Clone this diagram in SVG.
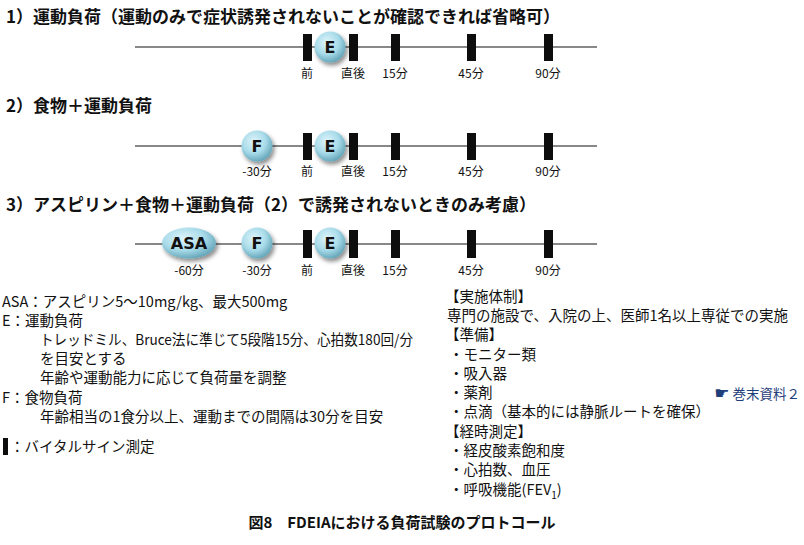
<svg xmlns="http://www.w3.org/2000/svg" width="804" height="545" viewBox="0 0 804 545">
<style>
text{font-family:"Noto Sans CJK JP","DejaVu Sans",sans-serif;fill:#111}
.h{font-size:17px;font-weight:bold}
.lbl{font-size:12px;text-anchor:middle}
.b{font-size:14.5px}
.node{font-size:16px;font-weight:bold;text-anchor:middle;font-family:"DejaVu Sans","Noto Sans CJK JP",sans-serif}
.bar{fill:#0d0d0d}
.tl{stroke:#888;stroke-width:2}
.ref{fill:#1f3f7a;font-size:13.5px;text-anchor:end}
.cap{font-size:15px;font-weight:bold;text-anchor:middle}
</style>
<defs>
<radialGradient id="g" cx="0.4" cy="0.35" r="0.7">
<stop offset="0" stop-color="#dff5fb"/>
<stop offset="0.55" stop-color="#a8dbe9"/>
<stop offset="1" stop-color="#5d9fb3"/>
</radialGradient>
<filter id="sh" x="-30%" y="-30%" width="170%" height="170%">
<feDropShadow dx="2" dy="3" stdDeviation="2" flood-color="#000" flood-opacity="0.45"/>
</filter>
</defs>

<text class="h" x="6" y="23">1）運動負荷（運動のみで症状誘発されないことが確認できれば省略可）</text>
<text class="h" x="6" y="112">2）食物＋運動負荷</text>
<text class="h" x="6" y="211">3）アスピリン＋食物＋運動負荷（2）で誘発されないときのみ考慮）</text>

<g id="connectors">
<line class="tl" x1="135" y1="47" x2="597" y2="47"/>
<line class="tl" x1="135" y1="146" x2="597" y2="146"/>
<line class="tl" x1="135" y1="244" x2="597" y2="244"/>
</g>

<g id="timeline1">
<rect class="bar" x="303" y="34" width="9" height="27"/>
<rect class="bar" x="349" y="34" width="9" height="27"/>
<rect class="bar" x="391" y="34" width="9" height="27"/>
<rect class="bar" x="467" y="34" width="9" height="27"/>
<rect class="bar" x="544" y="34" width="9" height="27"/>
<text class="lbl" x="307" y="78">前</text>
<text class="lbl" x="353" y="78">直後</text>
<text class="lbl" x="395" y="78">15分</text>
<text class="lbl" x="471" y="78">45分</text>
<text class="lbl" x="548" y="78">90分</text>
</g>
<g id="E1">
<circle cx="330" cy="47" r="15.5" fill="url(#g)" filter="url(#sh)"/>
<text class="node" x="330" y="53">E</text>
</g>

<g id="timeline2">
<rect class="bar" x="303" y="133" width="9" height="27"/>
<rect class="bar" x="349" y="133" width="9" height="27"/>
<rect class="bar" x="391" y="133" width="9" height="27"/>
<rect class="bar" x="467" y="133" width="9" height="27"/>
<rect class="bar" x="544" y="133" width="9" height="27"/>
<text class="lbl" x="257" y="176">-30分</text>
<text class="lbl" x="307" y="176">前</text>
<text class="lbl" x="353" y="176">直後</text>
<text class="lbl" x="395" y="176">15分</text>
<text class="lbl" x="471" y="176">45分</text>
<text class="lbl" x="548" y="176">90分</text>
</g>
<g id="F2">
<circle cx="257" cy="146" r="15.5" fill="url(#g)" filter="url(#sh)"/>
<text class="node" x="257" y="152">F</text>
</g>
<g id="E2">
<circle cx="330" cy="146" r="15.5" fill="url(#g)" filter="url(#sh)"/>
<text class="node" x="330" y="152">E</text>
</g>

<g id="timeline3">
<rect class="bar" x="303" y="230" width="9" height="28"/>
<rect class="bar" x="349" y="230" width="9" height="28"/>
<rect class="bar" x="391" y="230" width="9" height="28"/>
<rect class="bar" x="467" y="230" width="9" height="28"/>
<rect class="bar" x="544" y="230" width="9" height="28"/>
<text class="lbl" x="189" y="275">-60分</text>
<text class="lbl" x="257" y="275">-30分</text>
<text class="lbl" x="307" y="275">前</text>
<text class="lbl" x="353" y="275">直後</text>
<text class="lbl" x="395" y="275">15分</text>
<text class="lbl" x="471" y="275">45分</text>
<text class="lbl" x="548" y="275">90分</text>
</g>
<g id="ASA3">
<ellipse cx="189" cy="243" rx="27" ry="15.5" fill="url(#g)" filter="url(#sh)"/>
<text class="node" x="189" y="249">ASA</text>
</g>
<g id="F3">
<circle cx="257" cy="243" r="15.5" fill="url(#g)" filter="url(#sh)"/>
<text class="node" x="257" y="249">F</text>
</g>
<g id="E3">
<circle cx="330" cy="243" r="15.5" fill="url(#g)" filter="url(#sh)"/>
<text class="node" x="330" y="249">E</text>
</g>

<g id="legend">
<text class="b" x="2" y="307">ASA：アスピリン5～10mg/kg、最大500mg</text>
<text class="b" x="2" y="326">E：運動負荷</text>
<text class="b" x="40" y="345" textLength="373" lengthAdjust="spacingAndGlyphs">トレッドミル、Bruce法に準じて5段階15分、心拍数180回/分</text>
<text class="b" x="40" y="364">を目安とする</text>
<text class="b" x="40" y="383">年齢や運動能力に応じて負荷量を調整</text>
<text class="b" x="2" y="403">F：食物負荷</text>
<text class="b" x="40" y="422">年齢相当の1食分以上、運動までの間隔は30分を目安</text>
<rect class="bar" x="3" y="438" width="5" height="17"/>
<text class="b" x="10" y="452">：バイタルサイン測定</text>
</g>

<g id="notes">
<text class="b" x="445" y="302">【実施体制】</text>
<text class="b" x="447" y="321">専門の施設で、入院の上、医師1名以上専従での実施</text>
<text class="b" x="445" y="340">【準備】</text>
<text class="b" x="449" y="360">・モニター類</text>
<text class="b" x="449" y="379">・吸入器</text>
<text class="b" x="449" y="398">・薬剤</text>
<text class="b" x="449" y="417">・点滴（基本的には静脈ルートを確保）</text>
<text class="b" x="445" y="437">【経時測定】</text>
<text class="b" x="449" y="456">・経皮酸素飽和度</text>
<text class="b" x="449" y="475">・心拍数、血圧</text>
<text class="b" x="449" y="495">・呼吸機能(FEV<tspan font-size="10" dy="4">1</tspan><tspan dy="-4">)</tspan></text>
<text class="ref" x="800" y="399"><tspan font-size="17">☛</tspan> 巻末資料２</text>
</g>

<text class="cap" x="402" y="528">図8　FDEIAにおける負荷試験のプロトコール</text>
</svg>
